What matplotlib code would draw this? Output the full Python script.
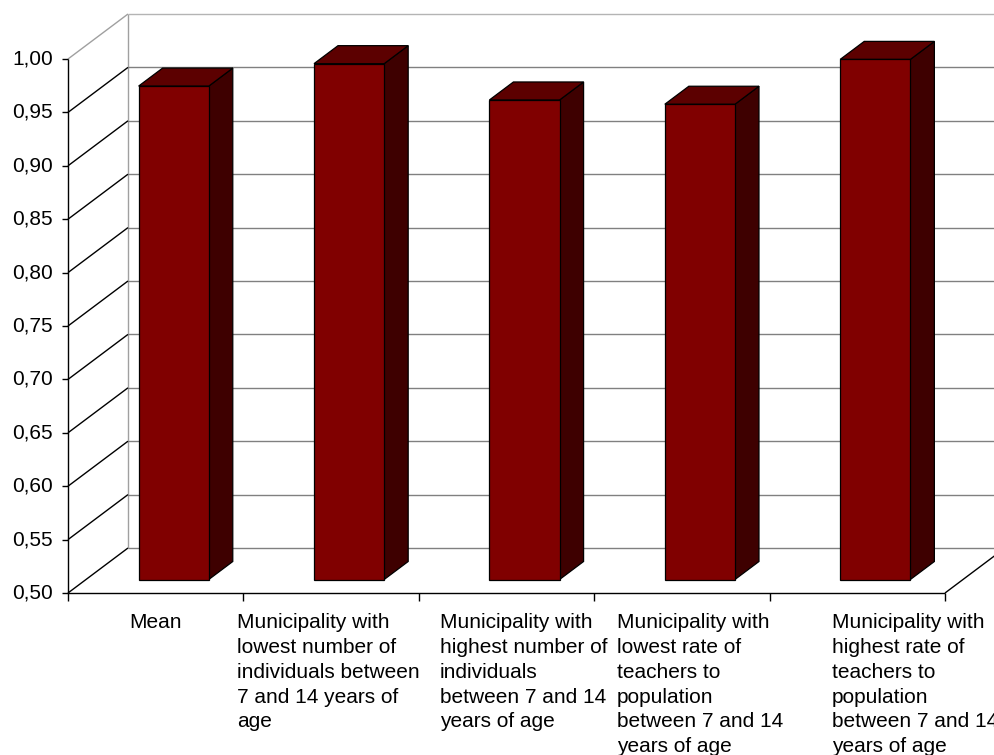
import matplotlib
matplotlib.use("Agg")
import matplotlib.pyplot as plt
from matplotlib.patches import Polygon

plt.rcParams['font.family'] = ['Liberation Sans', 'DejaVu Sans']

# ---- data -------------------------------------------------------------
categories = [
    "Mean",
    "Municipality with\nlowest number of\nindividuals between\n7 and 14 years of\nage",
    "Municipality with\nhighest number of\nindividuals\nbetween 7 and 14\nyears of age",
    "Municipality with\nlowest rate of\nteachers to\npopulation\nbetween 7 and 14\nyears of age",
    "Municipality with\nhighest rate of\nteachers to\npopulation\nbetween 7 and 14\nyears of age",
]
values = [0.962, 0.983, 0.949, 0.945, 0.987]
y_ticks = [0.50, 0.55, 0.60, 0.65, 0.70, 0.75, 0.80, 0.85, 0.90, 0.95, 1.00]
y_tick_labels = [f"{t:.2f}".replace(".", ",") for t in y_ticks]

# ---- oblique 3-D projection ----------------------------------------------
VMIN, VMAX = 0.50, 1.00
PX_PER_CAT = 175.4          # horizontal pixels per category
PX_PER_VAL = 1068.0         # vertical pixels per value unit
DX = 60.0 / PX_PER_CAT      # depth shift, x
DV = 45.0 / PX_PER_VAL      # depth shift, value
BAR_HALF = 0.20
BAR_D0, BAR_D1 = 0.30, 0.70


def P(x, v, d=0.0):
    return (x + d * DX, v + d * DV)


W, H = 995, 755
fig = plt.figure(figsize=(W / 100, H / 100), dpi=100)
ax = fig.add_axes([0, 0, 1, 1])
ax.set_xlim(-68 / PX_PER_CAT, (W - 68) / PX_PER_CAT)
ax.set_ylim(VMIN - (H - 593) / PX_PER_VAL, VMIN + 593 / PX_PER_VAL)
ax.axis("off")

n = len(categories)
lw = 1.0


def seg(p, q, **kw):
    ax.plot([p[0], q[0]], [p[1], q[1]], solid_capstyle="butt", **kw)


# back wall
seg(P(0, VMIN, 1), P(0, VMAX, 1), color="#a0a0a0", lw=lw, zorder=1)
seg(P(0, VMAX, 1), P(n, VMAX, 1), color="#b4b4b4", lw=lw, zorder=1)
for t in y_ticks[:-1]:
    seg(P(0, t, 1), P(n, t, 1), color="#808080", lw=lw, zorder=1)

# side wall gridlines
for t in y_ticks[:-1]:
    seg(P(0, t, 0), P(0, t, 1), color="black", lw=lw, zorder=2)
seg(P(0, VMAX, 0), P(0, VMAX, 1), color="#a0a0a0", lw=lw, zorder=2)

# floor edges
seg(P(0, VMIN, 0), P(n, VMIN, 0), color="black", lw=lw, zorder=2)
seg(P(n, VMIN, 0), P(n, VMIN, 1), color="black", lw=lw, zorder=2)

# value axis
seg(P(0, VMIN, 0), P(0, VMAX, 0), color="black", lw=lw, zorder=2)
tick_x = 6 / PX_PER_CAT
tick_v = 8 / PX_PER_VAL
for t, lab in zip(y_ticks, y_tick_labels):
    seg((-tick_x, t), (0, t), color="black", lw=lw, zorder=2)
    ax.text(-15 / PX_PER_CAT, t, lab, ha="right", va="center",
            fontsize=15, color="black")

# category ticks
for i in range(n + 1):
    seg((i, VMIN), (i, VMIN - tick_v), color="black", lw=lw, zorder=2)

# bars
FRONT, TOP, SIDE = "#800000", "#5c0000", "#3e0000"
for i, v in enumerate(values):
    c = i + 0.5
    xl, xr = c - BAR_HALF, c + BAR_HALF
    front = [P(xl, VMIN, BAR_D0), P(xr, VMIN, BAR_D0), P(xr, v, BAR_D0), P(xl, v, BAR_D0)]
    top = [P(xl, v, BAR_D0), P(xr, v, BAR_D0), P(xr, v, BAR_D1), P(xl, v, BAR_D1)]
    side = [P(xr, VMIN, BAR_D0), P(xr, VMIN, BAR_D1), P(xr, v, BAR_D1), P(xr, v, BAR_D0)]
    for poly, col in ((side, SIDE), (top, TOP), (front, FRONT)):
        ax.add_patch(Polygon(poly, closed=True, facecolor=col, edgecolor="black",
                             lw=0.9, joinstyle="miter", zorder=5))

# category labels (left edges in pixels; first label centred)
label_left_px = [None, 237, 440, 617, 832]
label_top = VMIN - 20 / PX_PER_VAL
for i, (lab, lx) in enumerate(zip(categories, label_left_px)):
    if lx is None:
        ax.text(i + 0.5, label_top, lab, ha="center", va="top", fontsize=15,
                linespacing=1.39)
    else:
        ax.text((lx - 68) / PX_PER_CAT, label_top, lab, ha="left", va="top",
                fontsize=15, linespacing=1.39, multialignment="left")

fig.savefig("out.png", dpi=100, facecolor="white")
